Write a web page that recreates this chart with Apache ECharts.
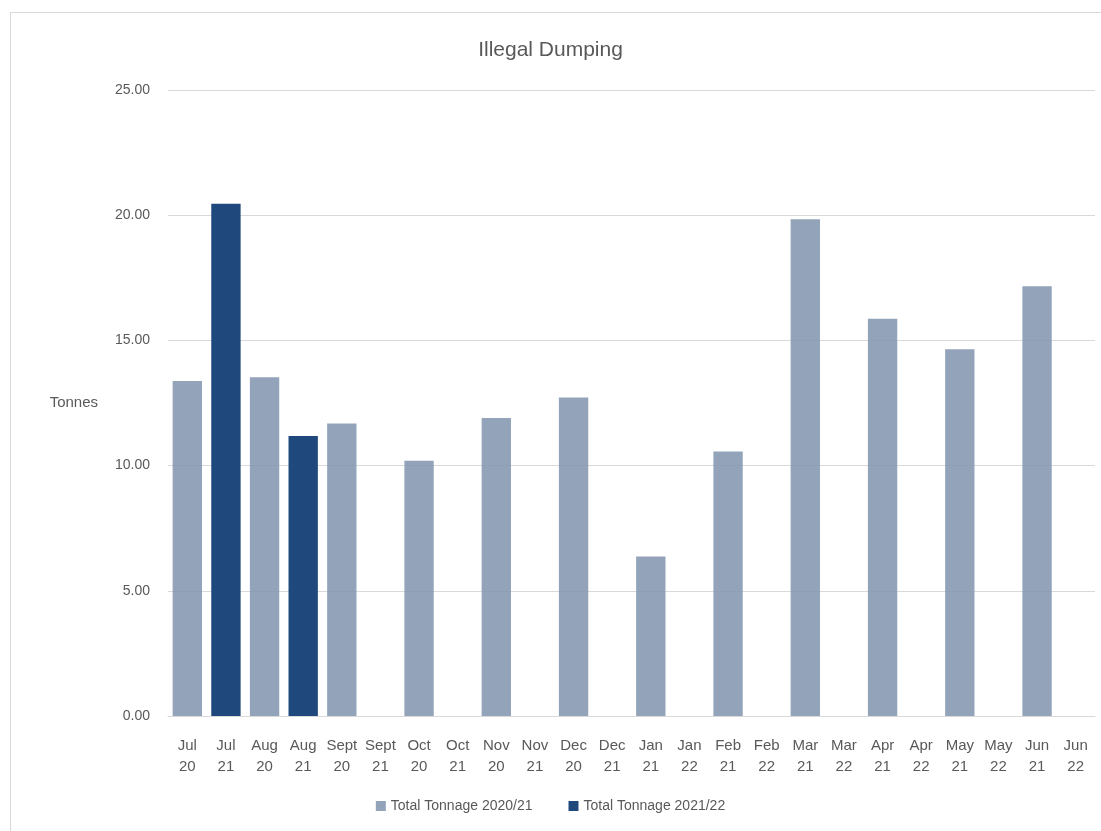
<!DOCTYPE html>
<html>
<head>
<meta charset="utf-8">
<script src="https://cdn.jsdelivr.net/npm/echarts@6/dist/echarts.min.js"></script>
<style>
  html, body { margin: 0; padding: 0; background: #ffffff; }
  #frame { position: absolute; left: 10px; top: 12px; width: 1100px; height: 830px; border-left: 1px solid #d9d9d9; border-top: 1px solid #d9d9d9; }
  #chart { position: absolute; left: 0; top: 0; width: 1101px; height: 831px; }
</style>
</head>
<body>
<div id="frame"></div>
<div id="chart"></div>
<script>
// Month labels (month / two-digit year)
const categories = [
  'Jul\n20', 'Jul\n21', 'Aug\n20', 'Aug\n21', 'Sept\n20', 'Sept\n21',
  'Oct\n20', 'Oct\n21', 'Nov\n20', 'Nov\n21', 'Dec\n20', 'Dec\n21',
  'Jan\n21', 'Jan\n22', 'Feb\n21', 'Feb\n22', 'Mar\n21', 'Mar\n22',
  'Apr\n21', 'Apr\n22', 'May\n21', 'May\n22', 'Jun\n21', 'Jun\n22'
];

// Tonnes collected, financial year 2020/21
const tonnage2020_21 = [
  13.38, null, 13.53, null, 11.68, null,
  10.19, null, 11.90, null, 12.72, null,
  6.37, null, 10.56, null, 19.84, null,
  15.86, null, 14.65, null, 17.16, null
];

// Tonnes collected, financial year 2021/22
const tonnage2021_22 = [
  null, 20.46, null, 11.18, null, null,
  null, null, null, null, null, null,
  null, null, null, null, null, null,
  null, null, null, null, null, null
];

const seriesNames = ['Total Tonnage 2020/21', 'Total Tonnage 2021/22'];

const FONT = '"Liberation Sans", "Open Sans", sans-serif';
const TEXT = '#595959';

const chart = echarts.init(document.getElementById('chart'));
chart.setOption({
  animation: false,
  title: {
    text: 'Illegal Dumping',
    left: 'center',
    top: 35,
    textStyle: { fontFamily: FONT, fontSize: 21, fontWeight: 'normal', color: TEXT }
  },
  legend: {
    bottom: 13,
    left: 'center',
    itemWidth: 10,
    itemHeight: 10,
    itemGap: 36,
    icon: 'rect',
    textStyle: { fontFamily: FONT, fontSize: 14, color: TEXT },
    data: seriesNames
  },
  grid: { left: 168, right: 6, top: 90, bottom: 115, containLabel: false },
  xAxis: {
    type: 'category',
    data: categories,
    axisLine: { lineStyle: { color: '#d9d9d9', width: 1 } },
    axisTick: { show: false },
    axisLabel: {
      interval: 0,
      margin: 19,
      fontFamily: FONT,
      fontSize: 15,
      lineHeight: 21,
      color: TEXT
    }
  },
  yAxis: {
    type: 'value',
    min: 0,
    max: 25,
    interval: 5,
    name: 'Tonnes',
    nameLocation: 'middle',
    nameRotate: 0,
    nameGap: 70,
    nameTextStyle: { fontFamily: FONT, fontSize: 15, color: TEXT, padding: [8, 0, 0, 0] },
    axisLine: { show: false },
    axisTick: { show: false },
    splitLine: { lineStyle: { color: '#d9d9d9', width: 1 } },
    axisLabel: {
      margin: 18,
      fontFamily: FONT,
      fontSize: 14,
      color: TEXT,
      formatter: v => v.toFixed(2)
    }
  },
  series: [
    {
      name: seriesNames[0],
      type: 'bar',
      data: tonnage2020_21,
      barWidth: '76%',
      barGap: '-100%',
      itemStyle: { color: '#8497b0', opacity: 0.88 }
    },
    {
      name: seriesNames[1],
      type: 'bar',
      data: tonnage2021_22,
      barWidth: '76%',
      barGap: '-100%',
      itemStyle: { color: '#1f497d' }
    }
  ]
});
</script>
</body>
</html>
